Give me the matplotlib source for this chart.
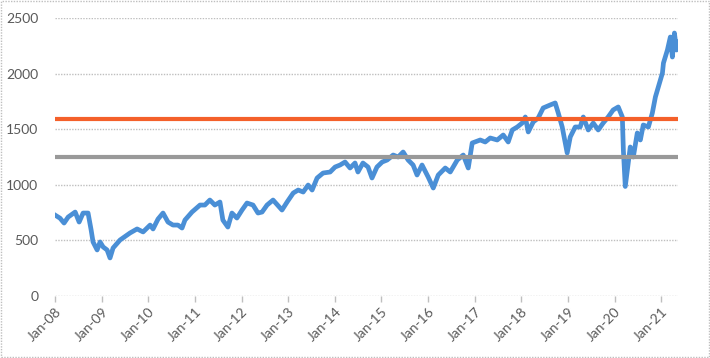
import matplotlib
matplotlib.use("Agg")
import matplotlib.pyplot as plt
from matplotlib.patches import Rectangle
import pandas as pd

dates = [
    "2008-01-01", "2008-02-09", "2008-03-12", "2008-04-13", "2008-06-07", "2008-07-08",
    "2008-08-08", "2008-09-16", "2008-10-10", "2008-10-25", "2008-11-26", "2008-12-19",
    "2009-01-12", "2009-02-12", "2009-03-07", "2009-03-31", "2009-05-25", "2009-08-11",
    "2009-10-05", "2009-11-21", "2010-01-15", "2010-02-07", "2010-03-18", "2010-04-26",
    "2010-06-04", "2010-07-13", "2010-08-21", "2010-09-22", "2010-10-15", "2010-12-09",
    "2011-02-10", "2011-03-20", "2011-04-28", "2011-06-06", "2011-07-16", "2011-08-08",
    "2011-09-16", "2011-10-18", "2011-11-26", "2012-01-05", "2012-02-13", "2012-03-31",
    "2012-05-09", "2012-06-10", "2012-07-19", "2012-09-04", "2012-11-13", "2012-12-23",
    "2013-02-09", "2013-03-20", "2013-04-28", "2013-06-06", "2013-07-07", "2013-08-15",
    "2013-10-01", "2013-11-25", "2014-01-03", "2014-02-11", "2014-03-22", "2014-04-30",
    "2014-06-08", "2014-07-01", "2014-08-09", "2014-09-18", "2014-10-19", "2014-11-27",
    "2015-01-07", "2015-02-15", "2015-04-03", "2015-05-12", "2015-06-20", "2015-07-29",
    "2015-09-06", "2015-10-07", "2015-11-15", "2016-01-02", "2016-02-11", "2016-03-21",
    "2016-05-15", "2016-06-23", "2016-08-17", "2016-10-03", "2016-11-11", "2016-12-12",
    "2017-02-13", "2017-03-24", "2017-05-02", "2017-06-26", "2017-08-12", "2017-09-20",
    "2017-10-22", "2017-11-30", "2018-01-08", "2018-02-01", "2018-02-24", "2018-04-04",
    "2018-05-13", "2018-06-21", "2018-08-15", "2018-09-23", "2018-10-17", "2018-11-17",
    "2018-12-26", "2019-01-19", "2019-02-27", "2019-04-07", "2019-05-01", "2019-06-09",
    "2019-07-18", "2019-08-26", "2019-10-04", "2019-11-12", "2019-12-21", "2020-01-30",
    "2020-03-02", "2020-03-10", "2020-03-25", "2020-05-03", "2020-05-27", "2020-06-27",
    "2020-07-21", "2020-08-13", "2020-09-22", "2020-10-23", "2020-11-16", "2020-12-09",
    "2021-01-10", "2021-01-18", "2021-02-18", "2021-03-13", "2021-03-29", "2021-04-14",
    "2021-04-30", "2021-05-08",
]
values = [
    728, 700, 656, 710, 755, 665,
    746, 746, 594, 486, 414, 486,
    441, 414, 342, 432, 504, 567,
    603, 576, 638, 603, 692, 746,
    665, 638, 638, 611, 683, 755,
    818, 818, 863, 818, 845, 683,
    620, 746, 701, 773, 836, 818,
    746, 755, 818, 863, 773, 845,
    926, 953, 935, 998, 953, 1061,
    1106, 1115, 1160, 1178, 1205, 1151,
    1196, 1115, 1196, 1160, 1061, 1160,
    1205, 1223, 1268, 1250, 1295, 1223,
    1178, 1088, 1178, 1070, 971, 1088,
    1151, 1115, 1223, 1268, 1151, 1376,
    1403, 1385, 1421, 1403, 1448, 1385,
    1493, 1520, 1556, 1610, 1475, 1565,
    1601, 1691, 1718, 1736, 1646, 1520,
    1286, 1430, 1520, 1520, 1610, 1493,
    1556, 1493, 1556, 1610, 1673, 1700,
    1610, 1313, 985, 1340, 1250, 1466,
    1403, 1538, 1520, 1646, 1790, 1880,
    2005, 2095, 2212, 2329, 2149, 2365,
    2212, 2284,
]
level_high = 1590
level_low = 1248
y_ticks = [0, 500, 1000, 1500, 2000, 2500]
x_tick_years = list(range(2008, 2022))

plt.rcParams['font.family'] = ['Lato', 'DejaVu Sans']

fig = plt.figure(figsize=(7.10, 3.58), dpi=100)
ax = fig.add_axes([55/710, 1-296/358, (678-55)/710, (296-18)/358])

x = pd.to_datetime(dates)
ax.plot(x, values, color='#4A8FD6', lw=3.4, solid_joinstyle='round', zorder=3)
ax.axhline(level_high, color='#F4602A', lw=3.0, zorder=4)
ax.axhline(level_low, color='#999999', lw=3.0, zorder=4)

ax.set_ylim(0, 2500)
ax.set_xlim(pd.Timestamp('2008-01-01'), pd.Timestamp('2021-05-12'))
ax.set_yticks(y_ticks)
ax.set_yticklabels([str(v) for v in y_ticks])
xt = [pd.Timestamp(f'{y}-01-01') for y in x_tick_years]
ax.set_xticks(xt)
ax.set_xticklabels([f'Jan-{str(y)[2:]}' for y in x_tick_years], rotation=45,
                   ha='right', rotation_mode='anchor')

for s in ['top', 'right', 'left', 'bottom']:
    ax.spines[s].set_visible(False)
ax.grid(axis='y', color='#BFBFBF', linestyle=(0, (1, 1)), lw=1.0, zorder=0)
ax.tick_params(axis='y', length=0, pad=12, labelsize=10, labelcolor='#595959')
ax.tick_params(axis='x', length=4, color='#BFBFBF', width=1, pad=3,
               labelsize=10, labelcolor='#595959')

fig.patches.append(Rectangle((0.001, 0.002), 0.997, 0.995, transform=fig.transFigure,
                             fill=False, edgecolor='#BFBFBF', lw=1.0,
                             linestyle=(0, (1, 1))))

fig.savefig('out.png', dpi=100)
